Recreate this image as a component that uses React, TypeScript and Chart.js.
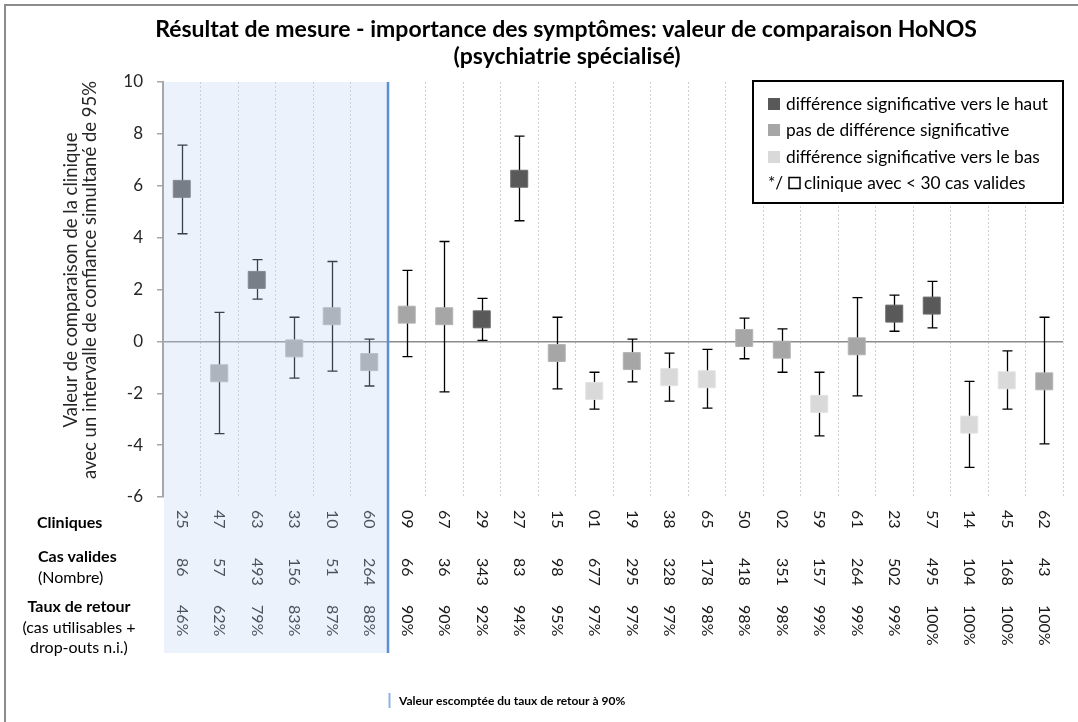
import React, { useEffect, useRef } from 'react';
import { Chart, registerables } from 'chart.js';

Chart.register(...registerables);

const FONT = 'Lato, "Open Sans", sans-serif';

const titleLines = [
  'Résultat de mesure - importance des symptômes: valeur de comparaison HoNOS',
  '(psychiatrie spécialisé)',
];
const yTitleLines = [
  'Valeur de comparaison de la clinique',
  'avec un intervalle de confiance simultané de 95%',
];

const clinics = ['25', '47', '63', '33', '10', '60', '09', '67', '29', '27', '15', '01', '19', '38', '65', '50', '02', '59', '61', '23', '57', '14', '45', '62'];
const values = [5.88, -1.23, 2.37, -0.27, 0.97, -0.8, 1.03, 0.97, 0.85, 6.27, -0.45, -1.91, -0.76, -1.38, -1.46, 0.13, -0.32, -2.41, -0.19, 1.07, 1.38, -3.21, -1.5, -1.54];
const upperCI = [7.57, 1.12, 3.15, 0.93, 3.08, 0.09, 2.74, 3.85, 1.66, 7.91, 0.93, -1.19, 0.09, -0.45, -0.31, 0.9, 0.48, -1.19, 1.69, 1.78, 2.31, -1.54, -0.37, 0.93];
const lowerCI = [4.15, -3.56, 1.63, -1.42, -1.15, -1.72, -0.59, -1.95, 0.04, 4.65, -1.83, -2.61, -1.56, -2.3, -2.57, -0.67, -1.19, -3.64, -2.1, 0.39, 0.52, -4.86, -2.61, -3.95];
const significance = ['up', 'none', 'up', 'none', 'none', 'none', 'none', 'none', 'up', 'up', 'none', 'down', 'none', 'down', 'down', 'none', 'none', 'down', 'none', 'up', 'up', 'down', 'down', 'none'];
const validCases = ['86', '57', '493', '156', '51', '264', '66', '36', '343', '83', '98', '677', '295', '328', '178', '418', '351', '157', '264', '502', '495', '104', '168', '43'];
const returnRates = ['46%', '62%', '79%', '83%', '87%', '88%', '90%', '90%', '92%', '94%', '95%', '97%', '97%', '97%', '98%', '98%', '98%', '99%', '99%', '99%', '100%', '100%', '100%', '100%'];
const belowTargetCount = 6;

const yMin = -6;
const yMax = 10;
const yStep = 2;

const legendLabels = [
  'différence significative vers le haut',
  'pas de différence significative',
  'différence significative vers le bas',
];
const legendNote = 'clinique avec < 30 cas valides';
const footerText = 'Valeur escomptée du taux de retour à 90%';

const sigColors: Record<string, string> = { up: '#595959', none: '#a6a6a6', down: '#d9d9d9' };
const sigBorders: Record<string, string> = { up: '#6a6a6a', none: '#b4b4b4', down: '#e2e2e2' };

const customPlugin = {
  id: 'customDraw',
  beforeDraw(chart: any) {
    const { ctx, width, height } = chart;
    ctx.save();
    ctx.fillStyle = '#ffffff';
    ctx.fillRect(0, 0, width, height);
    ctx.strokeStyle = '#8c8c8c';
    ctx.lineWidth = 2;
    ctx.strokeRect(5, 5, width + 40, height + 40);
    ctx.restore();
  },
  beforeDatasetsDraw(chart: any) {
    const { ctx } = chart;
    const xs = chart.scales.x;
    const ys = chart.scales.y;
    ctx.save();
    ctx.strokeStyle = '#000000';
    ctx.lineWidth = 1.3;
    for (let i = 0; i < values.length; i++) {
      const x = Math.round(xs.getPixelForValue(i)) + 0.5;
      const yH = ys.getPixelForValue(upperCI[i]);
      const yL = ys.getPixelForValue(lowerCI[i]);
      ctx.beginPath();
      ctx.moveTo(x, yH);
      ctx.lineTo(x, yL);
      ctx.moveTo(x - 5, yH);
      ctx.lineTo(x + 5, yH);
      ctx.moveTo(x - 5, yL);
      ctx.lineTo(x + 5, yL);
      ctx.stroke();
    }
    ctx.restore();
  },
  afterDatasetsDraw(chart: any) {
    const { ctx, chartArea } = chart;
    const xs = chart.scales.x;
    const rowTops = [chartArea.bottom + 13, chartArea.bottom + 61, chartArea.bottom + 108];
    const rows = [clinics, validCases, returnRates];
    ctx.save();
    ctx.fillStyle = '#1a1a1a';
    ctx.font = `16px ${FONT}`;
    ctx.textAlign = 'left';
    ctx.textBaseline = 'middle';
    rows.forEach((row, r) => {
      row.forEach((t, i) => {
        const x = xs.getPixelForValue(i);
        ctx.save();
        ctx.translate(x, rowTops[r]);
        ctx.rotate(Math.PI / 2);
        ctx.fillText(t, 0, 0);
        ctx.restore();
      });
    });
    // overlay region for clinics below the expected return rate
    const boundary = (xs.getPixelForValue(belowTargetCount - 1) + xs.getPixelForValue(belowTargetCount)) / 2;
    const tableBottom = chartArea.bottom + 156;
    ctx.fillStyle = 'rgba(188,212,242,0.3)';
    ctx.fillRect(chartArea.left + 1, chartArea.top, boundary - chartArea.left - 1, tableBottom - chartArea.top);
    ctx.strokeStyle = '#5b8fd6';
    ctx.lineWidth = 2.5;
    ctx.beginPath();
    ctx.moveTo(boundary, chartArea.top);
    ctx.lineTo(boundary, tableBottom);
    ctx.stroke();
    // footer
    ctx.fillStyle = '#8fb1e3';
    ctx.fillRect(boundary + 0.5, 693, 2, 15);
    ctx.fillStyle = '#000000';
    ctx.font = `bold 12px ${FONT}`;
    ctx.textBaseline = 'middle';
    ctx.fillText(footerText, boundary + 11, 701);
    ctx.restore();
  },
  afterDraw(chart: any) {
    const { ctx, chartArea } = chart;
    ctx.save();
    // title
    ctx.fillStyle = '#000000';
    ctx.textAlign = 'center';
    ctx.textBaseline = 'middle';
    ctx.font = `bold 23px ${FONT}`;
    ctx.fillText(titleLines[0], 566, 30);
    ctx.fillText(titleLines[1], 567, 57);
    // y title
    ctx.font = `18.5px ${FONT}`;
    ctx.fillStyle = '#262626';
    [71, 90].forEach((x, i) => {
      ctx.save();
      ctx.translate(x, 280);
      ctx.rotate(-Math.PI / 2);
      ctx.fillText(yTitleLines[i], 0, 0);
      ctx.restore();
    });
    // row labels
    ctx.fillStyle = '#000000';
    ctx.textAlign = 'left';
    ctx.font = `bold 16px ${FONT}`;
    ctx.fillText('Cliniques', 37, 523);
    ctx.fillText('Cas valides', 38, 557);
    ctx.font = `16px ${FONT}`;
    ctx.fillText('(Nombre)', 38, 578);
    ctx.textAlign = 'center';
    ctx.font = `bold 16px ${FONT}`;
    ctx.fillText('Taux de retour', 79, 607);
    ctx.font = `16px ${FONT}`;
    ctx.fillText('(cas utilisables +', 79, 628);
    ctx.fillText('drop-outs n.i.)', 79, 648);
    // legend
    const lx = chartArea.right - 310;
    const ly = chartArea.top - 1;
    ctx.fillStyle = '#ffffff';
    ctx.fillRect(lx, ly, 310, 122);
    ctx.strokeStyle = '#000000';
    ctx.lineWidth = 2;
    ctx.strokeRect(lx, ly, 310, 122);
    ctx.textAlign = 'left';
    ctx.font = `17.3px ${FONT}`;
    const rowsY = [104, 130, 157, 183];
    ['up', 'none', 'down'].forEach((k, i) => {
      ctx.fillStyle = sigColors[k];
      ctx.fillRect(lx + 15, rowsY[i] - 6, 12, 12);
      ctx.fillStyle = '#000000';
      ctx.fillText(legendLabels[i], lx + 33, rowsY[i]);
    });
    ctx.fillText('*/', lx + 15, rowsY[3]);
    ctx.strokeStyle = '#000000';
    ctx.lineWidth = 1.5;
    ctx.strokeRect(lx + 36, rowsY[3] - 5.5, 11, 11);
    ctx.fillText(legendNote, lx + 51, rowsY[3]);
    ctx.restore();
  },
};

export default function App() {
  const ref = useRef<HTMLCanvasElement | null>(null);
  useEffect(() => {
    document.body.style.margin = '0';
    const canvas = ref.current;
    if (!canvas) return;
    const chart = new Chart(canvas, {
      type: 'line',
      data: {
        labels: clinics,
        datasets: [
          {
            data: values,
            showLine: false,
            pointStyle: 'rect',
            pointRadius: 12,
            pointHoverRadius: 12,
            pointBorderWidth: 1,
            pointBackgroundColor: significance.map((s) => sigColors[s]),
            pointBorderColor: significance.map((s) => sigBorders[s]),
          },
        ],
      },
      options: {
        responsive: false,
        animation: false,
        events: [],
        layout: { padding: { left: 45, top: 82, right: 15, bottom: 225 } },
        plugins: { legend: { display: false }, tooltip: { enabled: false }, title: { display: false } },
        scales: {
          x: {
            type: 'category',
            offset: true,
            grid: { offset: true, color: '#d0d0d0', lineWidth: 1, drawTicks: false },
            border: { display: false, dash: [2, 2] },
            ticks: { display: false },
            afterFit: (s: any) => {
              s.height = 0;
            },
          },
          y: {
            min: yMin,
            max: yMax,
            ticks: {
              stepSize: yStep,
              padding: 14,
              color: '#262626',
              font: { family: FONT, size: 17 },
            },
            grid: {
              color: (c: any) => (c.tick && c.tick.value === 0 ? '#8c8c8c' : 'rgba(0,0,0,0)'),
              lineWidth: 1.5,
              tickColor: '#a6a6a6',
              tickLength: 6,
            },
            border: { color: '#a6a6a6', width: 2 },
            afterFit: (s: any) => {
              s.width = 118;
            },
          },
        },
      },
      plugins: [customPlugin],
    });
    return () => chart.destroy();
  }, []);
  return <canvas ref={ref} width={1078} height={722} style={{ display: 'block', width: 1078, height: 722 }} />;
}
